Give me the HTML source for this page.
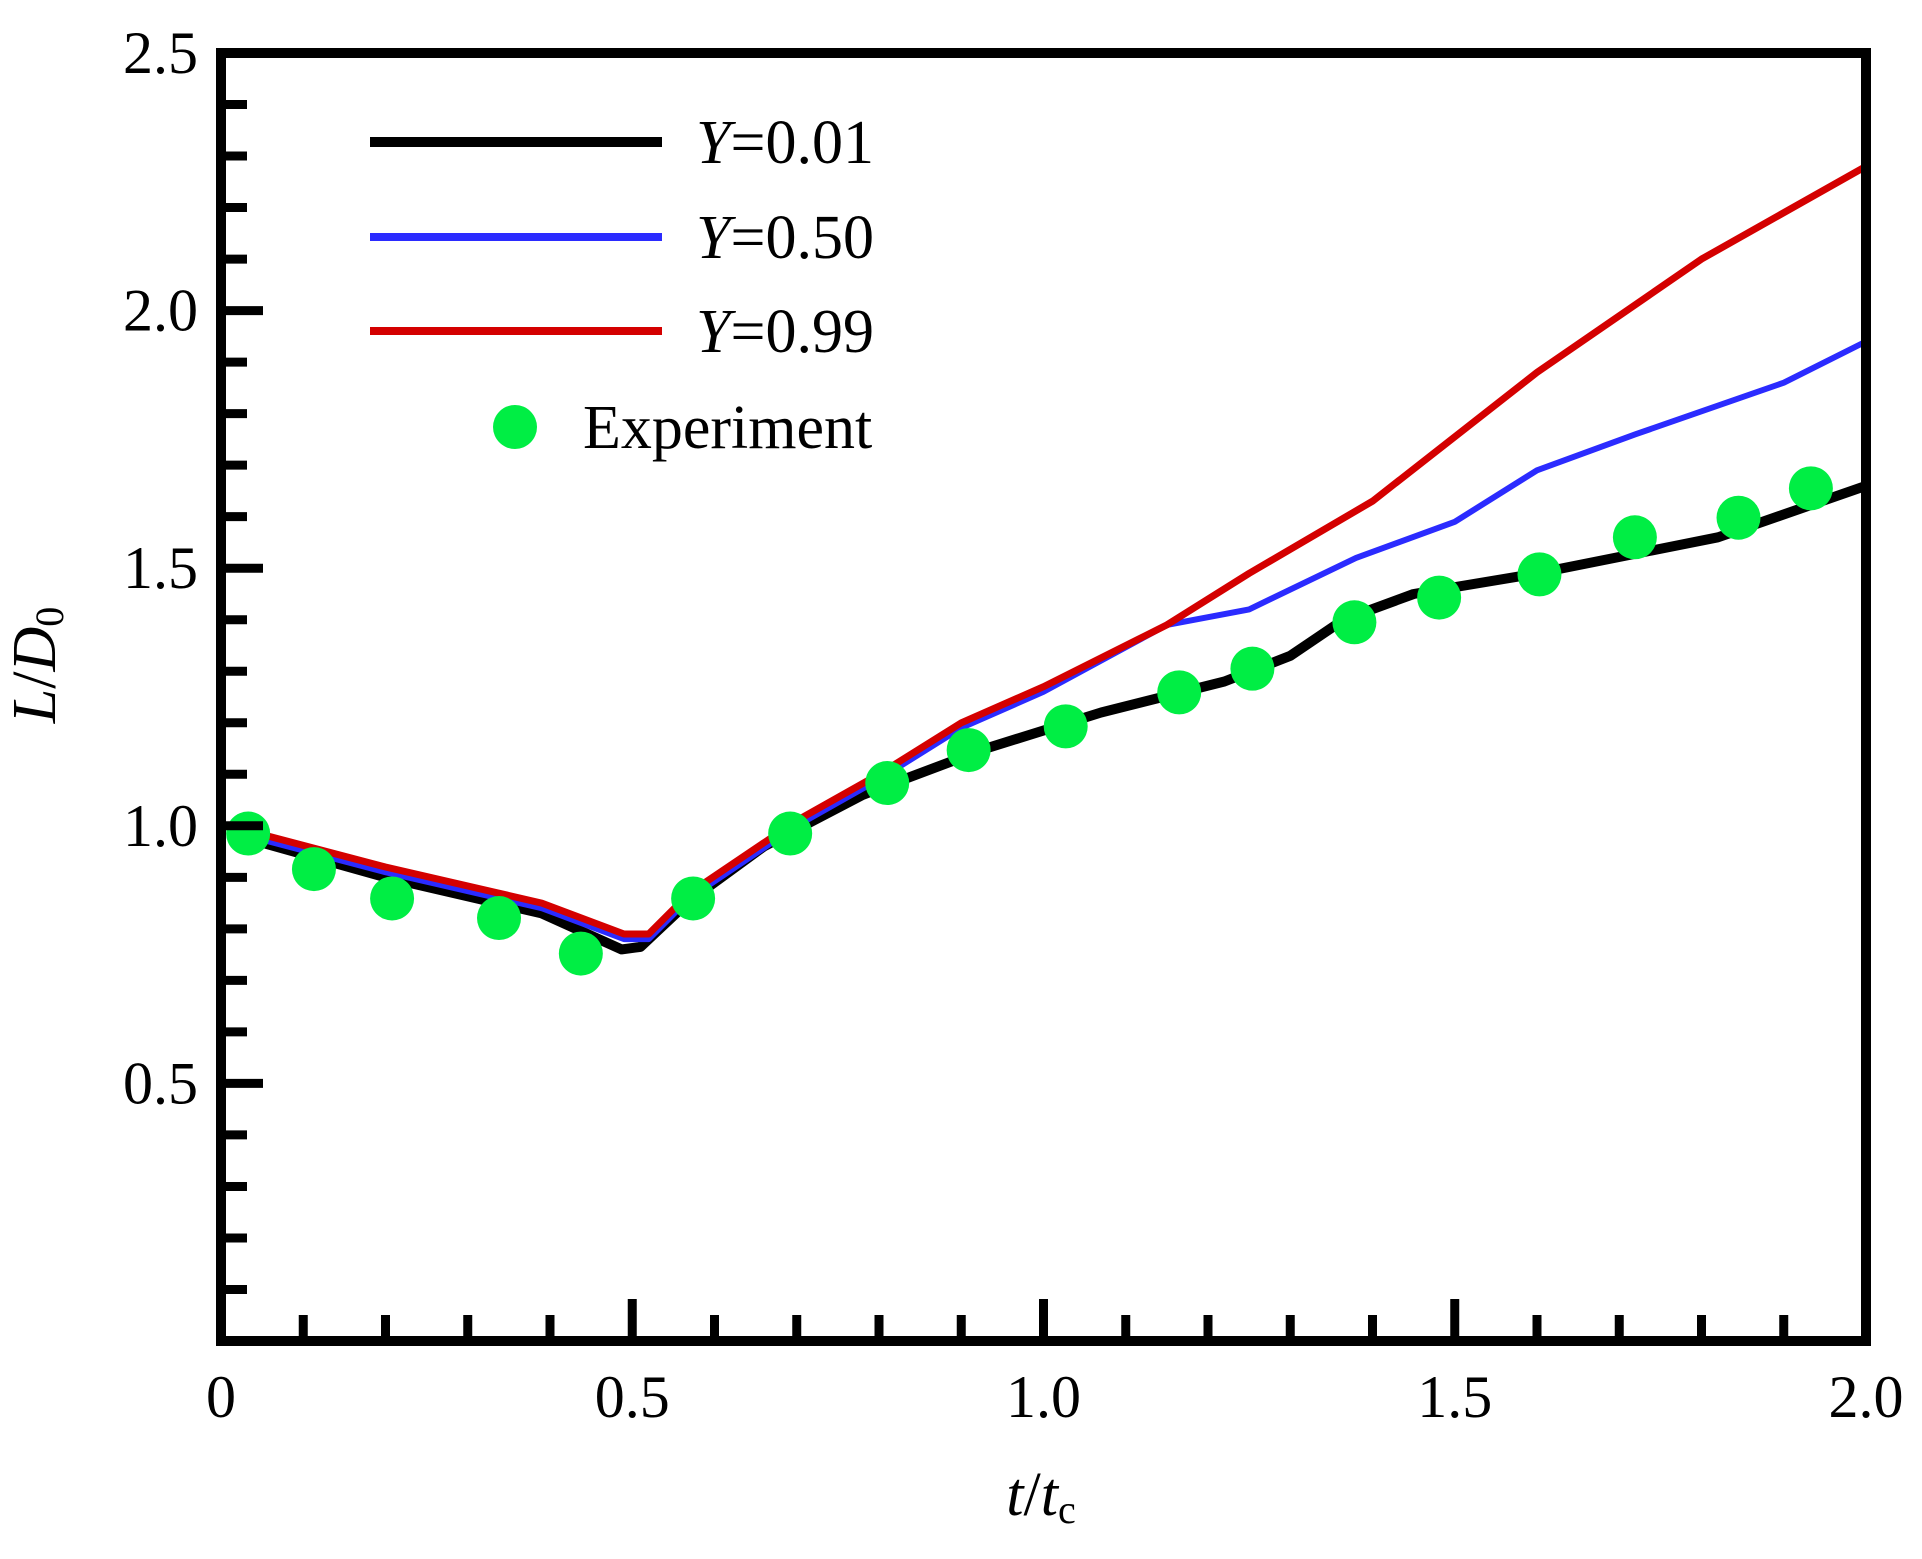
<!DOCTYPE html>
<html><head><meta charset="utf-8"><style>
html,body{margin:0;padding:0;background:#fff;}
svg{display:block;font-family:"Liberation Serif",serif;}
</style></head><body>
<svg id="chart" width="1922" height="1559" viewBox="0 0 1922 1559" xmlns="http://www.w3.org/2000/svg">
<g id="marks"></g>
<rect x="221" y="53" width="1645" height="1288" fill="none" stroke="#000" stroke-width="10"/>
<g>
<line x1="370" y1="142" x2="662" y2="142" stroke="#000" stroke-width="10"/>
<text x="696" y="163" font-size="62"><tspan font-style="italic">Y</tspan>=0.01</text>
<line x1="370" y1="237" x2="662" y2="237" stroke="#2b2bff" stroke-width="8"/>
<text x="696" y="258" font-size="62"><tspan font-style="italic">Y</tspan>=0.50</text>
<line x1="370" y1="331" x2="662" y2="331" stroke="#d40000" stroke-width="8"/>
<text x="696" y="352" font-size="62"><tspan font-style="italic">Y</tspan>=0.99</text>
<circle cx="515" cy="427" r="22" fill="#00ee44"/>
<text x="583" y="448" font-size="62">Experiment</text>
</g>
<text x="1041" y="1515" font-size="62" text-anchor="middle"><tspan font-style="italic">t</tspan>/<tspan font-style="italic">t</tspan><tspan font-size="40" dy="8">c</tspan></text>
<text transform="translate(55,665) rotate(-90)" font-size="62" text-anchor="middle"><tspan font-style="italic">L</tspan>/<tspan font-style="italic">D</tspan><tspan font-size="40" dy="8">0</tspan></text>
</svg>
<script>
const xTicks = [0, 0.5, 1.0, 1.5, 2.0];
const xTickLabels = ["0", "0.5", "1.0", "1.5", "2.0"];
const yTicks = [0.5, 1.0, 1.5, 2.0, 2.5];
const yTickLabels = ["0.5", "1.0", "1.5", "2.0", "2.5"];
const tY001 = [0.01,0.2,0.39,0.487,0.51,0.57,0.66,0.78,0.93,1.07,1.22,1.30,1.365,1.45,1.6,1.82,2.0];
const vY001 = [0.985,0.9,0.83,0.76,0.765,0.855,0.96,1.06,1.15,1.22,1.28,1.33,1.40,1.45,1.49,1.56,1.66];
const tY050 = [0.01,0.2,0.39,0.49,0.52,0.57,0.7,0.8,0.9,1.0,1.15,1.25,1.38,1.5,1.6,1.72,1.9,2.0];
const vY050 = [0.99,0.91,0.84,0.78,0.78,0.86,1.0,1.09,1.19,1.26,1.39,1.42,1.52,1.59,1.69,1.76,1.86,1.94];
const tY099 = [0.01,0.2,0.39,0.49,0.52,0.57,0.7,0.8,0.9,1.0,1.15,1.25,1.4,1.6,1.8,2.0];
const vY099 = [1.0,0.92,0.85,0.79,0.79,0.87,1.01,1.1,1.2,1.27,1.39,1.49,1.63,1.88,2.1,2.28];
const tExp = [0.033,0.113,0.208,0.338,0.4375,0.574,0.692,0.810,0.909,1.027,1.165,1.254,1.378,1.481,1.603,1.719,1.845,1.933];
const vExp = [0.985,0.916,0.859,0.821,0.752,0.859,0.985,1.083,1.147,1.193,1.259,1.305,1.395,1.443,1.488,1.560,1.598,1.655];

const NS = "http://www.w3.org/2000/svg";
const X0 = 221, X1 = 1866, Y0 = 1341, Y1 = 53;
function sx(t){ return X0 + (t/2.0)*(X1-X0); }
function sy(v){ return Y0 - (v/2.5)*(Y0-Y1); }
const svg = document.getElementById('chart');
const marks = document.getElementById('marks');
function mk(tag, attrs, parent){
  const e = document.createElementNS(NS, tag);
  for (const k in attrs) e.setAttribute(k, attrs[k]);
  (parent||svg).appendChild(e);
  return e;
}
// minor/major ticks
for (let i=1;i<20;i++){
  const t = i*0.1, major = (i%5===0);
  const ln = mk('line',{x1:sx(t),x2:sx(t),y1:Y0,y2:Y0-(major?42:26),stroke:'#000','stroke-width':9});
  
  
}
for (let i=1;i<25;i++){
  const v = i*0.1, major = (i%5===0);
  const ln = mk('line',{x1:X0,x2:X0+(major?42:26),y1:sy(v),y2:sy(v),stroke:'#000','stroke-width':9});
  
  
}
xTicks.forEach((t,i)=>{
  const tx = mk('text',{x:sx(t),y:1417,'font-size':60,'text-anchor':'middle'});
  tx.textContent = xTickLabels[i];
  
  
});
yTicks.forEach((v,i)=>{
  const tx = mk('text',{x:198,y:sy(v)+20,'font-size':60,'text-anchor':'end'});
  tx.textContent = yTickLabels[i];
  
  
});
function series(ts, vs, color, w, name){
  const d = ts.map((t,i)=>(i?'L':'M')+sx(t).toFixed(1)+','+sy(vs[i]).toFixed(1)).join(' ');
  const p = mk('path',{d:d,fill:'none',stroke:color,'stroke-width':w,'stroke-linejoin':'round'}, marks);
  
  
}
series(tY001, vY001, '#000', 10, 'line-y001');
series(tY050, vY050, '#2b2bff', 6, 'line-y050');
series(tY099, vY099, '#d40000', 7, 'line-y099');
tExp.forEach((t,i)=>{
  const c = mk('circle',{cx:sx(t),cy:sy(vExp[i]),r:22,fill:'#00ee44'}, marks);
  
  
});
</script>
</body></html>
